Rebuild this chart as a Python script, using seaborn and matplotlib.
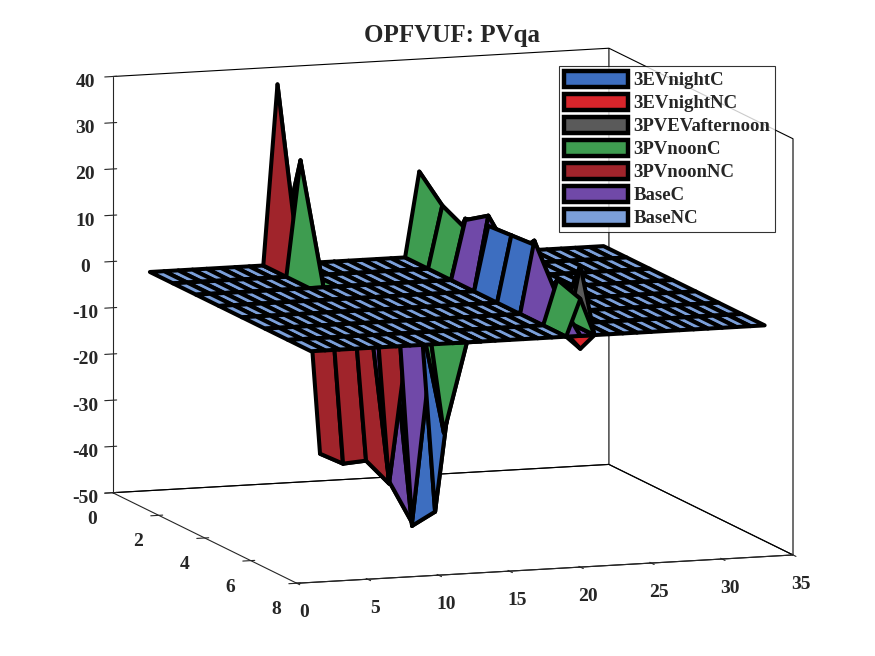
import numpy as np
import matplotlib
matplotlib.use("Agg")
import matplotlib.pyplot as plt
import seaborn as sns
from matplotlib.patches import Patch
from mpl_toolkits.mplot3d import proj3d
from mpl_toolkits.mplot3d.art3d import Poly3DCollection

sns.set_style("white")
plt.rcParams['font.family'] = ['Liberation Serif', 'DejaVu Serif']
plt.rcParams['font.weight'] = 'bold'
plt.rcParams['axes.unicode_minus'] = False

# %% data
bus = np.arange(1, 34)       # x grid
period = np.arange(1, 9)     # y grid

scenarios = ['3EVnightC', '3EVnightNC', '3PVEVafternoon', '3PVnoonC',
             '3PVnoonNC', 'BaseC', 'BaseNC']
colors = ['#3D6EC0', '#D8252B', '#5A5A5A', '#3E9C50', '#A0242B', '#7049A8', '#7B9FD9']

# non-zero columns of each scenario -> {bus: values over the 8 periods}
ev_night_c = {13: [0, 0, 0, 0, -47.2, -41.7, 0, 0],
              20: [0, 0, 13.1, 14.0, 14.4, 14.8, 0, 0]}
ev_night_nc = {20: [0, 0, 0, 0, 0, 0, 0, -2.8]}
pvev_afternoon = {20: [0, 0, 0, 0, 0, 0, 0, 15.2]}
pv_noon_c = {10: [0, 25, 0, 0, 0, 0, 0, 0],
             12: [0, 0, 0, 0, 0, 0, -22, 0],
             20: [18.4, 13.5, 11, 0, 0, 0, 9.7, 8]}
pv_noon_nc = {10: [39, 0, 0, 0, 0, 0, 0, 0],
              13: [-41.4, -41.1, -38, -40.5, 0, 0, 0, 0]}
base_c = {13: [0, 0, 0, -40, -46.5, 0, 0, 0],
          20: [0, 0, 12.8, 16.2, 10, 15.7, 6, 0]}
base_nc = {}

series = [ev_night_c, ev_night_nc, pvev_afternoon, pv_noon_c, pv_noon_nc, base_c, base_nc]

# %% build faces (one quad per grid cell, like surf)
verts, fcols = [], []
def add_faces(Z, color, skip_flat):
    for j in range(len(period) - 1):
        for i in range(len(bus) - 1):
            if skip_flat and not np.any(Z[j:j + 2, i:i + 2]):
                continue
            verts.append([(bus[i], period[j], Z[j, i]), (bus[i + 1], period[j], Z[j, i + 1]),
                          (bus[i + 1], period[j + 1], Z[j + 1, i + 1]), (bus[i], period[j + 1], Z[j + 1, i])])
            fcols.append(color)

for k, s in enumerate(series):
    Z = np.zeros((len(period), len(bus)))
    for b, vals in s.items():
        Z[:, b - 1] = vals
    add_faces(Z, colors[k], skip_flat=(k != len(series) - 1))

# %% figure
W, H = 875, 656
fig = plt.figure(figsize=(W / 100, H / 100), dpi=100)
ax = fig.add_axes([0, 0, 1, 1], projection='3d')
ax.set_proj_type('ortho')
aspect = (524, 571, 422)
ax.set_box_aspect(aspect)
ax.view_init(elev=9.64, azim=-108.8)

pc = Poly3DCollection(verts, facecolors=fcols, edgecolors='k', linewidths=2.9)
ax.add_collection3d(pc)

ax.set_xlim(0, 35)
ax.set_ylim(8, 0)
ax.set_zlim(-50, 40)
ax.set_xticks(range(0, 36, 5))
ax.set_yticks(range(0, 9, 2))
ax.set_zticks(range(-50, 41, 10))
ax.grid(False)
for a in (ax.xaxis, ax.yaxis, ax.zaxis):
    a.set_pane_color((1, 1, 1, 0))
    a.pane.set_alpha(None)
    a.pane.set_edgecolor('k')
    a.pane.set_linewidth(0.8)
    a.line.set_linewidth(0.8)
    a.set_tick_params(labelsize=14, pad=2)
    for t in a.get_ticklabels():
        t.set_fontweight('bold')

# place the box like the reference
def disp(p):
    x2, y2, _ = proj3d.proj_transform(p[0], p[1], p[2], ax.get_proj())
    return np.array(ax.transData.transform((x2, y2)))

tA = np.array([112.7, H - 492.7])
tB = np.array([793.0, H - 555.0])
fig.canvas.draw()
s = np.linalg.norm(tB - tA) / np.linalg.norm(disp((35, 8, -50)) - disp((0, 0, -50)))
ax.set_box_aspect(aspect, zoom=s)
fig.canvas.draw()
d = tA - disp((0, 0, -50))
pos = ax.get_position(original=True)
ax.set_position([pos.x0 + d[0] / W, pos.y0 + d[1] / H, pos.width, pos.height])

fig.text(452 / W, 1 - 42 / H, 'OPFVUF: PVqa', ha='center', va='baseline',
         fontsize=18, fontweight='bold')

handles = [Patch(facecolor=c, edgecolor='k', linewidth=3.2) for c in colors]
leg = fig.legend(handles, scenarios, loc='upper right', bbox_to_anchor=(775 / W, 1 - 66 / H),
                 fontsize=13.5, frameon=True, fancybox=False, handlelength=3.4,
                 handleheight=0.95, labelspacing=0.24, handletextpad=0.3, borderpad=0.25,
                 borderaxespad=0)
leg.get_frame().set_edgecolor('k')
leg.get_frame().set_linewidth(0.8)
for t in leg.get_texts():
    t.set_fontweight('bold')

fig.savefig('out.png', dpi=100)
